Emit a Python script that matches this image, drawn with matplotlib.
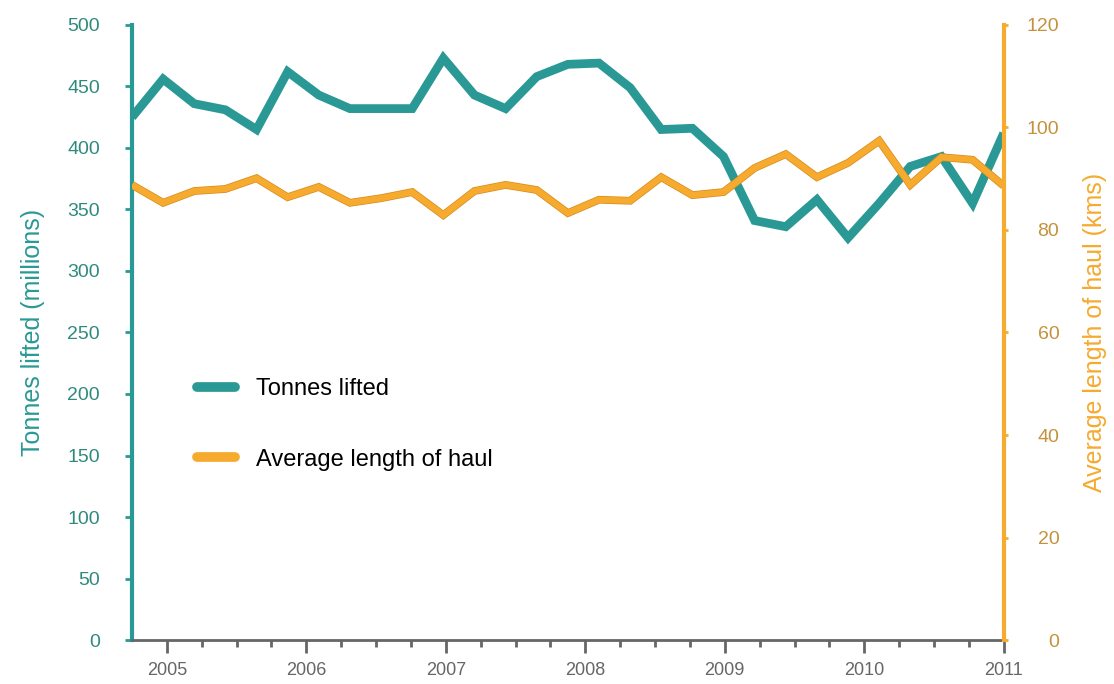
import numpy as np
import matplotlib
matplotlib.use("Agg")
import matplotlib.pyplot as plt
import matplotlib.patheffects as pe

plt.rcParams['font.family'] = ['Liberation Sans', 'DejaVu Sans']

# quarterly-ish readings, end of 2004 to start of 2011
tonnes_lifted = [425, 456, 436, 431, 415, 462, 443, 432, 432, 432,
                 473, 443, 432, 458, 468, 469, 449, 415, 416, 393,
                 341, 336, 358, 327, 355, 385, 393, 355, 412]
avg_haul = [88.8, 85.3, 87.6, 88.0, 90.1, 86.4, 88.4, 85.3, 86.2, 87.4,
            82.9, 87.6, 88.8, 87.8, 83.3, 85.9, 85.7, 90.3, 86.8, 87.4,
            92.1, 94.8, 90.3, 93.1, 97.4, 88.8, 94.2, 93.7, 88.6]
years = [2005, 2006, 2007, 2008, 2009, 2010, 2011]

teal = '#2a9995'
teal_text = '#2f8a7e'
orange = '#f6aa2e'
orange_text = '#c4923c'
grey = '#666666'

x = np.linspace(2004.75, 2011.0, len(tonnes_lifted))

fig = plt.figure(figsize=(11.14, 6.84), dpi=100)
ax = fig.add_axes([0.1185, 0.0643, 0.7825, 0.8992])
ax2 = ax.twinx()

l1, = ax.plot(x, tonnes_lifted, color=teal, lw=6.3, solid_joinstyle='miter',
              solid_capstyle='butt', label='Tonnes lifted', zorder=3)
l2, = ax2.plot(x, avg_haul, color=orange, lw=4.6, solid_joinstyle='miter',
               solid_capstyle='butt', label='Average length of haul',
               path_effects=[pe.Stroke(linewidth=5.6, foreground='#d48c1e'), pe.Normal()])

ax.set_xlim(2004.75, 2011.0)
ax.set_ylim(0, 500)
ax2.set_ylim(0, 120)
ax.set_yticks(np.arange(0, 501, 50))
ax2.set_yticks(np.arange(0, 121, 20))
ax.set_xticks(years)
ax.set_xticks(np.arange(2005.25, 2011.0, 0.25), minor=True)

for a in (ax, ax2):
    a.spines['top'].set_visible(False)
ax.spines['right'].set_visible(False)
ax2.spines['left'].set_visible(False)
ax2.spines['bottom'].set_visible(False)
ax.spines['left'].set_color(teal)
ax.spines['left'].set_linewidth(3)
ax2.spines['right'].set_color(orange)
ax2.spines['right'].set_linewidth(3)
ax.spines['bottom'].set_color(grey)
ax.spines['bottom'].set_linewidth(2)

ax.tick_params(axis='y', colors=teal, labelcolor=teal_text, labelsize=14,
               length=5, width=2, pad=18)
ax2.tick_params(axis='y', colors=orange, labelcolor=orange_text, labelsize=14,
                length=3, width=2, pad=37)
for lab in ax2.get_yticklabels():
    lab.set_horizontalalignment('right')
ax.tick_params(axis='x', which='major', colors=grey, labelcolor=grey,
               labelsize=13, length=9, width=2, pad=7)
ax.tick_params(axis='x', which='minor', colors=grey, length=5, width=2)

ax.set_ylabel('Tonnes lifted (millions)', color=teal, fontsize=18, labelpad=16)
ax2.set_ylabel('Average length of haul (kms)', color=orange, fontsize=18, labelpad=17)

ax.legend(handles=[l1, l2], loc='upper left', bbox_to_anchor=(0.05, 0.46),
          frameon=False, fontsize=17, handlelength=1.6, labelspacing=2.05,
          handletextpad=0.9)
leg = ax.get_legend()
for h in leg.legend_handles:
    h.set_solid_capstyle('round')
    h.set_linewidth(7)
    h.set_path_effects([])

fig.savefig('out.png', dpi=100, facecolor='white')
